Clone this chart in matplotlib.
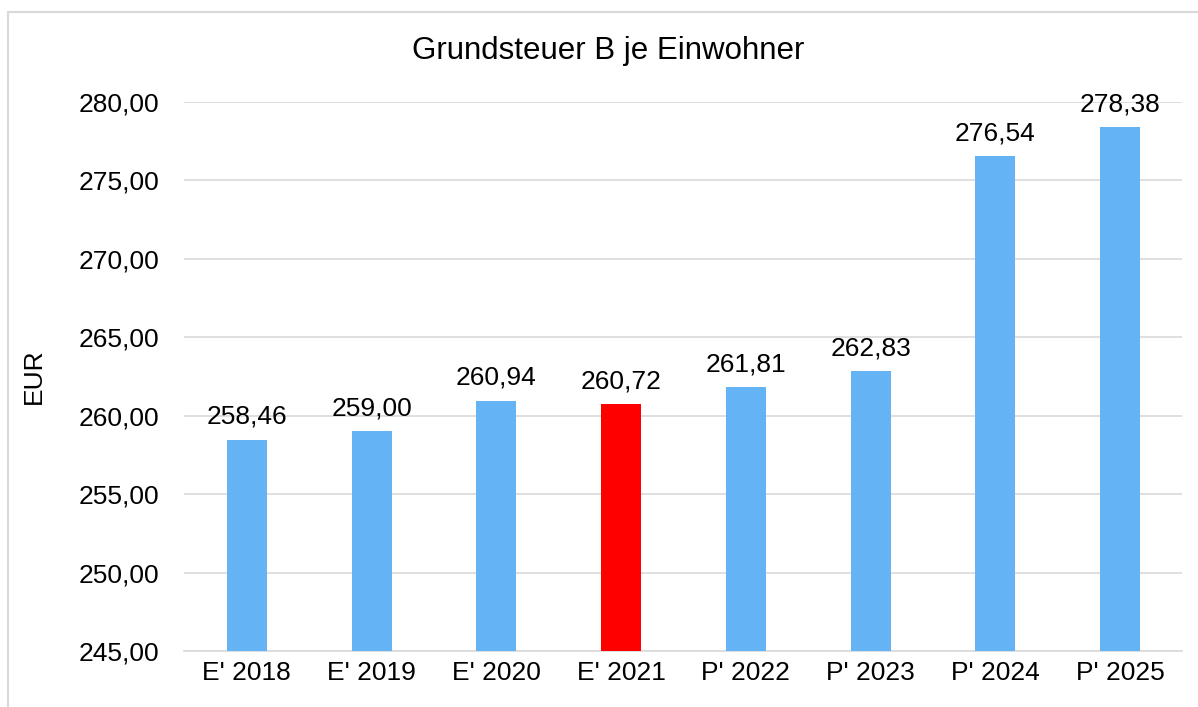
import matplotlib.pyplot as plt
from matplotlib.patches import Rectangle

plt.rcParams['font.family'] = ['Liberation Sans', 'DejaVu Sans']

categories = ["E' 2018", "E' 2019", "E' 2020", "E' 2021", "P' 2022", "P' 2023", "P' 2024", "P' 2025"]
values = [258.46, 259.00, 260.94, 260.72, 261.81, 262.83, 276.54, 278.38]
colors = ['#63b3f5', '#63b3f5', '#63b3f5', '#ff0000', '#63b3f5', '#63b3f5', '#63b3f5', '#63b3f5']
yticks = [245, 250, 255, 260, 265, 270, 275, 280]

fig = plt.figure(figsize=(11.98, 7.07), dpi=100)
ax = fig.add_axes([0.154, 0.079, 0.833, 0.777])

x = range(len(categories))
bars = ax.bar(x, values, width=0.32, color=colors, bottom=0, zorder=3)

ax.set_ylim(245, 280)
ax.set_xlim(-0.5, len(categories) - 0.5)
ax.set_yticks(yticks)
ax.set_yticklabels([f"{v:.2f}".replace('.', ',') for v in yticks], fontsize=19)
ax.set_xticks(list(x))
ax.set_xticklabels(categories, fontsize=19)
ax.tick_params(length=0, pad=7)
ax.tick_params(axis='y', pad=18)

ax.grid(axis='y', color='#d9d9d9', linewidth=1.2, zorder=0)
for s in ['left', 'right', 'top']:
    ax.spines[s].set_visible(False)
ax.spines['bottom'].set_color('#d9d9d9')
ax.spines['bottom'].set_linewidth(1.2)

for xi, v in zip(x, values):
    ax.text(xi, v + 0.7, f"{v:.2f}".replace('.', ','), ha='center', va='bottom', fontsize=19)

ax.set_ylabel('EUR', fontsize=19, labelpad=24)
fig.text(0.508, 0.928, 'Grundsteuer B je Einwohner', ha='center', va='center', fontsize=22.5)

fig.patches.append(Rectangle((8 / 1198, -0.05), 1.1, 1 - 12 / 707 + 0.05,
                             transform=fig.transFigure, fill=False,
                             edgecolor='#d9d9d9', linewidth=1.5))

fig.savefig('out.png', dpi=100)
